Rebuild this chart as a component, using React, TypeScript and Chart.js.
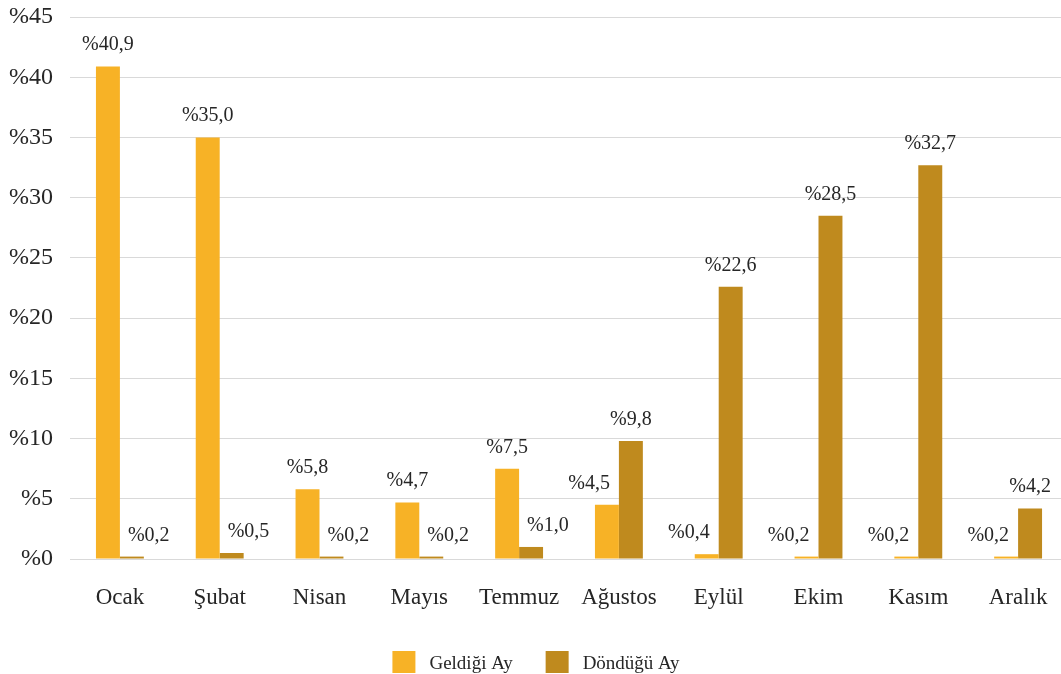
import React, { useEffect, useRef } from "react";
import { Chart, registerables } from "chart.js";

Chart.register(...registerables);

const categories = ["Ocak", "Şubat", "Nisan", "Mayıs", "Temmuz", "Ağustos", "Eylül", "Ekim", "Kasım", "Aralık"];
const seriesNames = ["Geldiği Ay", "Döndüğü Ay"];
const geldigiAy = [40.9, 35.0, 5.8, 4.7, 7.5, 4.5, 0.4, 0.2, 0.2, 0.2];
const donduguAy = [0.2, 0.5, 0.2, 0.2, 1.0, 9.8, 22.6, 28.5, 32.7, 4.2];
const yTicks = [0, 5, 10, 15, 20, 25, 30, 35, 40, 45];

const COLORS = ["#F7B226", "#BF8A1E"];
const FONT = "'Liberation Serif', 'Times New Roman', serif";
const TEXT = "#262626";

const fmt = (v: number) => "%" + v.toFixed(1).replace(".", ",");

const labelPlugin = {
  id: "barLabels",
  afterDatasetsDraw(chart: any) {
    const ctx = chart.ctx;
    ctx.save();
    ctx.font = `20px ${FONT}`;
    ctx.fillStyle = TEXT;
    ctx.textAlign = "center";
    ctx.textBaseline = "alphabetic";
    chart.data.datasets.forEach((ds: any, di: number) => {
      const meta = chart.getDatasetMeta(di);
      const other = chart.getDatasetMeta(1 - di);
      meta.data.forEach((bar: any, i: number) => {
        const v = ds.data[i];
        const text = fmt(v);
        const w = ctx.measureText(text).width;
        const baseline = bar.y - 16;
        let x = bar.x;
        const sib = other.data[i];
        const half = sib.width / 2;
        const sLeft = sib.x - half;
        const sRight = sib.x + half;
        const overlapsH = x + w / 2 > sLeft && x - w / 2 < sRight;
        const overlapsV = sib.y < baseline;
        if (overlapsH && overlapsV) {
          if (di === 0) x = sLeft - 9 - w / 2;
          else x = sRight + 8 + w / 2;
        }
        ctx.fillText(text, x, baseline);
      });
    });
    ctx.restore();
  },
};

const legendPlugin = {
  id: "customLegend",
  afterDraw(chart: any) {
    const ctx = chart.ctx;
    ctx.save();
    ctx.font = `19px ${FONT}`;
    ctx.textBaseline = "alphabetic";
    ctx.textAlign = "left";
    const box = 23;
    const gap = 14;
    const between = 33;
    const items = chart.data.datasets.map((ds: any) => ({
      text: ds.label,
      color: ds.backgroundColor,
      w: box + gap + ctx.measureText(ds.label).width,
    }));
    const total = items.reduce((s: number, it: any) => s + it.w, 0) + between * (items.length - 1);
    let x = 536 - total / 2;
    const top = 651;
    items.forEach((it: any) => {
      ctx.fillStyle = it.color;
      ctx.fillRect(x, top, box, 22);
      ctx.fillStyle = TEXT;
      ctx.fillText(it.text, x + box + gap, top + 18);
      x += it.w + between;
    });
    ctx.restore();
  },
};

export default function App() {
  const ref = useRef<HTMLCanvasElement | null>(null);
  useEffect(() => {
    if (!ref.current) return;
    const chart = new Chart(ref.current, {
      type: "bar",
      data: {
        labels: categories,
        datasets: [
          { label: seriesNames[0], data: geldigiAy, backgroundColor: COLORS[0], categoryPercentage: 0.48, barPercentage: 1 },
          { label: seriesNames[1], data: donduguAy, backgroundColor: COLORS[1], categoryPercentage: 0.48, barPercentage: 1 },
        ],
      },
      options: {
        animation: false,
        responsive: false,
        layout: { padding: { top: 17, right: 0, left: 0, bottom: 65 } },
        plugins: { legend: { display: false }, tooltip: { enabled: false } },
        scales: {
          x: {
            grid: { display: false, drawTicks: false },
            border: { display: false },
            ticks: { font: { family: FONT, size: 23 }, color: TEXT, padding: 25, maxRotation: 0 },
            afterFit: (s: any) => { s.height = 50; s.paddingLeft = 0; s.paddingRight = 0; },
          },
          y: {
            min: 0,
            max: 45,
            afterBuildTicks: (s: any) => { s.ticks = yTicks.map((v) => ({ value: v })); },
            grid: { color: "#D9D9D9", lineWidth: 1, drawTicks: false },
            border: { display: false },
            ticks: {
              font: { family: FONT, size: 24 },
              color: TEXT,
              padding: 17,
              callback: (v: any) => "%" + v,
            },
            afterFit: (s: any) => { s.width = 70; s.paddingTop = 0; s.paddingBottom = 0; },
          },
        },
      },
      plugins: [labelPlugin, legendPlugin],
    });
    return () => chart.destroy();
  }, []);
  return (
    <div style={{ position: "fixed", left: 0, top: 0, width: 1068, height: 674, background: "#fff" }}>
      <canvas ref={ref} width={1068} height={674} style={{ width: 1068, height: 674, display: "block" }} />
    </div>
  );
}
